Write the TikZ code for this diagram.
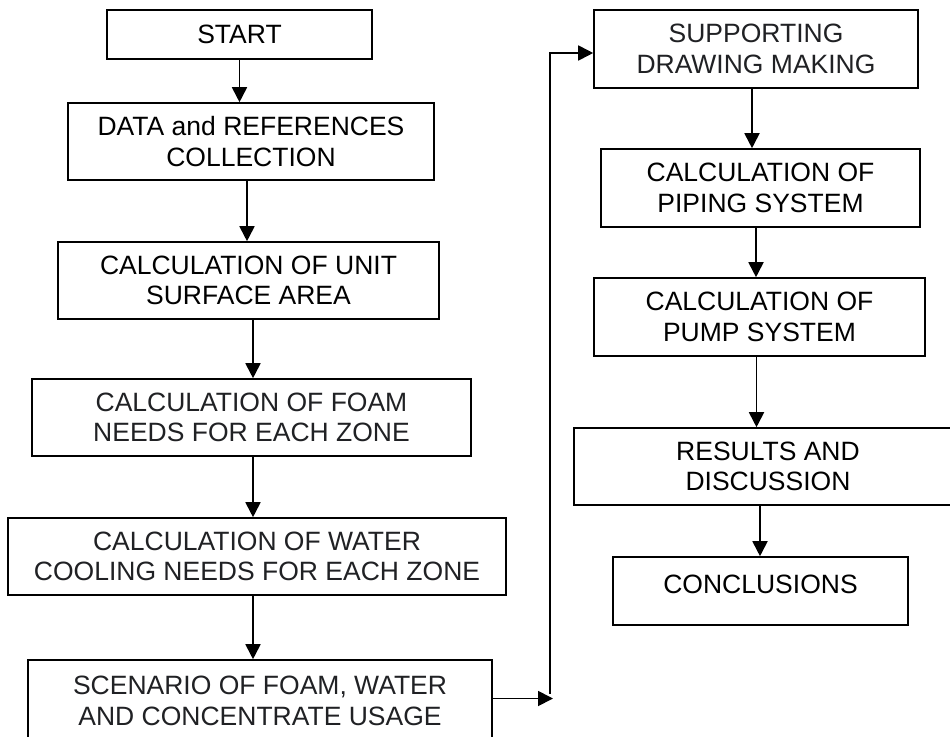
\documentclass[tikz,border=0pt]{standalone}
\usepackage{fontspec}
\setmainfont{Liberation Sans}
\usetikzlibrary{arrows.meta,backgrounds}
\definecolor{shadegray}{HTML}{F8F9FA}
\definecolor{textgray}{HTML}{202124}
\tikzset{
  box/.style={draw, line width=1.6pt, align=center, inner sep=0pt,
    minimum height=77pt, font=\fontsize{26.5}{30.5}\selectfont},
  greybox/.style={box, text=textgray},
  arr/.style={-{Triangle[length=15pt,width=15pt]}, line width=1.8pt},
}
\begin{document}
\begin{tikzpicture}[x=1pt,y=-1pt]
  \clip (0,0) rectangle (950,736);
  \fill[white] (0,0) rectangle (950,736);
  % left column
  \node[box, minimum width=265pt, minimum height=49pt] (start) at (239.5,34.5) {START};
  \node[box, minimum width=366pt] (data) at (251,141.5) {DATA and REFERENCES\\COLLECTION};
  \node[box, minimum width=381pt] (unit) at (248.5,280.5) {CALCULATION OF UNIT\\SURFACE AREA};
  \node[greybox, minimum width=439pt] (foam) at (251.5,417.5) {CALCULATION OF FOAM\\NEEDS FOR EACH ZONE};
  \node[greybox, minimum width=498pt] (water) at (257,556.5) {CALCULATION OF WATER\\COOLING NEEDS FOR EACH ZONE};
  \node[greybox, minimum width=464pt, minimum height=82pt] (scenario) at (260,701) {SCENARIO OF FOAM, WATER\\AND CONCENTRATE USAGE};
  % right column
  \node[greybox, minimum width=324pt, minimum height=78pt] (supporting) at (756,49) {SUPPORTING\\DRAWING MAKING};
  \node[box, minimum width=319pt, minimum height=78pt] (piping) at (760.5,188) {CALCULATION OF\\PIPING SYSTEM};
  \node[box, minimum width=331pt, minimum height=78pt] (pump) at (759.5,317) {CALCULATION OF\\PUMP SYSTEM};
  \node[box, minimum width=388pt] (results) at (768,466.5) {RESULTS AND\\DISCUSSION};
  \node[box, minimum width=295pt, minimum height=68pt, text height=20pt, text depth=16pt] (conclusions) at (760.5,591) {CONCLUSIONS};
  \coordinate (bend) at (550,698.5);

  \begin{scope}[on background layer]
    \foreach \n in {foam,water,supporting}
      \fill[shadegray] ([xshift=16pt,yshift=-10pt]\n.north west) rectangle ([xshift=-16pt,yshift=10pt]\n.south east);
    \fill[shadegray] ([xshift=16pt,yshift=-11pt]scenario.north west) rectangle ([xshift=-16pt,yshift=15pt]scenario.south east);
  \end{scope}

  \begin{scope}[arr]
    \draw (start.south) -- (start.south |- data.north);
    \draw ([xshift=-4pt]data.south) -- ([xshift=-4pt]data.south |- unit.north);
    \draw ([xshift=4.5pt]unit.south) -- ([xshift=4.5pt]unit.south |- foam.north);
    \draw ([xshift=1.5pt]foam.south) -- ([xshift=1.5pt]foam.south |- water.north);
    \draw ([xshift=-4pt]water.south) -- ([xshift=-4pt]water.south |- scenario.north);
    \draw (scenario.east |- bend) -- ([xshift=3pt]bend);
    \draw ([yshift=5pt]bend) |- ([yshift=-4pt]supporting.west);
    \draw ([xshift=-4pt]supporting.south) -- ([xshift=-4pt]supporting.south |- piping.north);
    \draw ([xshift=-4.5pt]piping.south) -- ([xshift=-4.5pt]piping.south |- pump.north);
    \draw ([xshift=-3pt]pump.south) -- ([xshift=-3pt]pump.south |- results.north);
    \draw ([xshift=-8pt]results.south) -- ([xshift=-8pt]results.south |- conclusions.north);
  \end{scope}
\end{tikzpicture}
\end{document}
